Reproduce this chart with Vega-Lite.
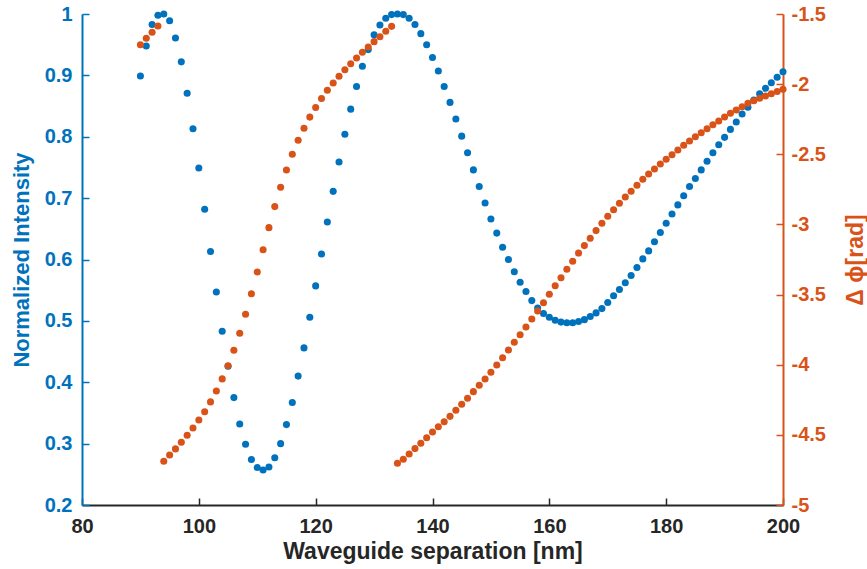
{
  "$schema": "https://vega.github.io/schema/vega-lite/v6.json",
  "width": 701,
  "height": 491,
  "autosize": {"type": "none"},
  "padding": {"left": 82, "top": 14, "right": 84, "bottom": 64},
  "background": "white",
  "config": {
    "view": {"stroke": null},
    "axis": {
      "grid": false,
      "labelFont": "Liberation Sans",
      "titleFont": "Liberation Sans",
      "labelFontWeight": "bold",
      "titleFontWeight": "bold",
      "labelFontSize": 20,
      "titleFontSize": 23,
      "domainWidth": 2,
      "tickWidth": 1.5,
      "tickSize": -7,
      "labelPadding": 15,
      "labelExpr": "'' + datum.value"
    }
  },
  "data": {"values": [
    {"x":90,"intensity":0.899,"phase":-1.719},
    {"x":91,"intensity":0.948,"phase":-1.673},
    {"x":92,"intensity":0.983,"phase":-1.630},
    {"x":93,"intensity":0.998,"phase":-1.586},
    {"x":94,"intensity":1.000,"phase":-4.688},
    {"x":95,"intensity":0.989,"phase":-4.643},
    {"x":96,"intensity":0.961,"phase":-4.600},
    {"x":97,"intensity":0.922,"phase":-4.553},
    {"x":98,"intensity":0.871,"phase":-4.503},
    {"x":99,"intensity":0.813,"phase":-4.451},
    {"x":100,"intensity":0.749,"phase":-4.394},
    {"x":101,"intensity":0.682,"phase":-4.335},
    {"x":102,"intensity":0.613,"phase":-4.265},
    {"x":103,"intensity":0.547,"phase":-4.187},
    {"x":104,"intensity":0.483,"phase":-4.101},
    {"x":105,"intensity":0.426,"phase":-4.007},
    {"x":106,"intensity":0.375,"phase":-3.897},
    {"x":107,"intensity":0.332,"phase":-3.776},
    {"x":108,"intensity":0.299,"phase":-3.640},
    {"x":109,"intensity":0.274,"phase":-3.494},
    {"x":110,"intensity":0.261,"phase":-3.339},
    {"x":111,"intensity":0.257,"phase":-3.180},
    {"x":112,"intensity":0.262,"phase":-3.023},
    {"x":113,"intensity":0.277,"phase":-2.873},
    {"x":114,"intensity":0.300,"phase":-2.735},
    {"x":115,"intensity":0.331,"phase":-2.612},
    {"x":116,"intensity":0.367,"phase":-2.500},
    {"x":117,"intensity":0.410,"phase":-2.400},
    {"x":118,"intensity":0.456,"phase":-2.314},
    {"x":119,"intensity":0.506,"phase":-2.235},
    {"x":120,"intensity":0.557,"phase":-2.166},
    {"x":121,"intensity":0.609,"phase":-2.102},
    {"x":122,"intensity":0.661,"phase":-2.044},
    {"x":123,"intensity":0.711,"phase":-1.992},
    {"x":124,"intensity":0.759,"phase":-1.944},
    {"x":125,"intensity":0.804,"phase":-1.897},
    {"x":126,"intensity":0.845,"phase":-1.854},
    {"x":127,"intensity":0.882,"phase":-1.814},
    {"x":128,"intensity":0.915,"phase":-1.773},
    {"x":129,"intensity":0.942,"phase":-1.735},
    {"x":130,"intensity":0.966,"phase":-1.697},
    {"x":131,"intensity":0.982,"phase":-1.662},
    {"x":132,"intensity":0.993,"phase":-1.623},
    {"x":133,"intensity":0.999,"phase":-1.588},
    {"x":134,"intensity":1.000,"phase":-4.702},
    {"x":135,"intensity":0.999,"phase":-4.674},
    {"x":136,"intensity":0.993,"phase":-4.636},
    {"x":137,"intensity":0.983,"phase":-4.598},
    {"x":138,"intensity":0.968,"phase":-4.560},
    {"x":139,"intensity":0.950,"phase":-4.520},
    {"x":140,"intensity":0.929,"phase":-4.479},
    {"x":141,"intensity":0.907,"phase":-4.442},
    {"x":142,"intensity":0.882,"phase":-4.406},
    {"x":143,"intensity":0.856,"phase":-4.368},
    {"x":144,"intensity":0.829,"phase":-4.325},
    {"x":145,"intensity":0.801,"phase":-4.282},
    {"x":146,"intensity":0.774,"phase":-4.239},
    {"x":147,"intensity":0.746,"phase":-4.192},
    {"x":148,"intensity":0.719,"phase":-4.147},
    {"x":149,"intensity":0.692,"phase":-4.102},
    {"x":150,"intensity":0.666,"phase":-4.054},
    {"x":151,"intensity":0.643,"phase":-4.002},
    {"x":152,"intensity":0.620,"phase":-3.950},
    {"x":153,"intensity":0.600,"phase":-3.895},
    {"x":154,"intensity":0.580,"phase":-3.840},
    {"x":155,"intensity":0.563,"phase":-3.786},
    {"x":156,"intensity":0.548,"phase":-3.731},
    {"x":157,"intensity":0.533,"phase":-3.674},
    {"x":158,"intensity":0.521,"phase":-3.617},
    {"x":159,"intensity":0.512,"phase":-3.558},
    {"x":160,"intensity":0.506,"phase":-3.498},
    {"x":161,"intensity":0.501,"phase":-3.437},
    {"x":162,"intensity":0.498,"phase":-3.380},
    {"x":163,"intensity":0.497,"phase":-3.320},
    {"x":164,"intensity":0.497,"phase":-3.263},
    {"x":165,"intensity":0.499,"phase":-3.204},
    {"x":166,"intensity":0.502,"phase":-3.151},
    {"x":167,"intensity":0.507,"phase":-3.099},
    {"x":168,"intensity":0.513,"phase":-3.044},
    {"x":169,"intensity":0.520,"phase":-2.992},
    {"x":170,"intensity":0.530,"phase":-2.942},
    {"x":171,"intensity":0.541,"phase":-2.895},
    {"x":172,"intensity":0.551,"phase":-2.849},
    {"x":173,"intensity":0.562,"phase":-2.804},
    {"x":174,"intensity":0.574,"phase":-2.764},
    {"x":175,"intensity":0.587,"phase":-2.721},
    {"x":176,"intensity":0.601,"phase":-2.678},
    {"x":177,"intensity":0.614,"phase":-2.640},
    {"x":178,"intensity":0.629,"phase":-2.605},
    {"x":179,"intensity":0.644,"phase":-2.569},
    {"x":180,"intensity":0.659,"phase":-2.536},
    {"x":181,"intensity":0.674,"phase":-2.503},
    {"x":182,"intensity":0.689,"phase":-2.469},
    {"x":183,"intensity":0.704,"phase":-2.436},
    {"x":184,"intensity":0.719,"phase":-2.405},
    {"x":185,"intensity":0.732,"phase":-2.375},
    {"x":186,"intensity":0.746,"phase":-2.346},
    {"x":187,"intensity":0.760,"phase":-2.318},
    {"x":188,"intensity":0.774,"phase":-2.289},
    {"x":189,"intensity":0.787,"phase":-2.263},
    {"x":190,"intensity":0.799,"phase":-2.234},
    {"x":191,"intensity":0.812,"phase":-2.208},
    {"x":192,"intensity":0.824,"phase":-2.184},
    {"x":193,"intensity":0.837,"phase":-2.161},
    {"x":194,"intensity":0.848,"phase":-2.137},
    {"x":195,"intensity":0.860,"phase":-2.118},
    {"x":196,"intensity":0.870,"phase":-2.100},
    {"x":197,"intensity":0.879,"phase":-2.084},
    {"x":198,"intensity":0.888,"phase":-2.069},
    {"x":199,"intensity":0.897,"phase":-2.053},
    {"x":200,"intensity":0.906,"phase":-2.037}
  ]},
  "layer": [
    {
      "mark": {"type": "circle", "size": 50, "opacity": 1, "color": "#0072BD"},
      "encoding": {
        "x": {
          "field": "x", "type": "quantitative",
          "scale": {"domain": [80, 200], "nice": false},
          "axis": {
            "title": "Waveguide separation [nm]",
            "values": [80, 100, 120, 140, 160, 180, 200],
            "domainColor": "#262626", "tickColor": "#262626",
            "labelColor": "#262626", "titleColor": "#262626",
            "labelPadding": 18, "titlePadding": 4,
            "labelFlush": false
          }
        },
        "y": {
          "field": "intensity", "type": "quantitative",
          "scale": {"domain": [0.2, 1], "nice": false, "zero": false},
          "axis": {
            "orient": "left",
            "title": "Normalized Intensity",
            "titleFontSize": 22,
            "values": [0.2, 0.3, 0.4, 0.5, 0.6, 0.7, 0.8, 0.9, 1],
            "domainColor": "#0072BD", "tickColor": "#0072BD",
            "labelColor": "#0072BD", "titleColor": "#0072BD",
            "labelPadding": 17,
            "titlePadding": 11
          }
        }
      }
    },
    {
      "mark": {"type": "circle", "size": 50, "opacity": 1, "color": "#D95319"},
      "encoding": {
        "x": {"field": "x", "type": "quantitative"},
        "y": {
          "field": "phase", "type": "quantitative",
          "scale": {"domain": [-5, -1.5], "nice": false, "zero": false},
          "axis": {
            "orient": "right",
            "title": "Δ ϕ[rad]",
            "titleAngle": 270,
            "values": [-5, -4.5, -4, -3.5, -3, -2.5, -2, -1.5],
            "domainColor": "#D95319", "tickColor": "#D95319",
            "labelColor": "#D95319", "titleColor": "#D95319",
            "titlePadding": 42
          }
        }
      }
    }
  ],
  "resolve": {"scale": {"y": "independent"}}
}
